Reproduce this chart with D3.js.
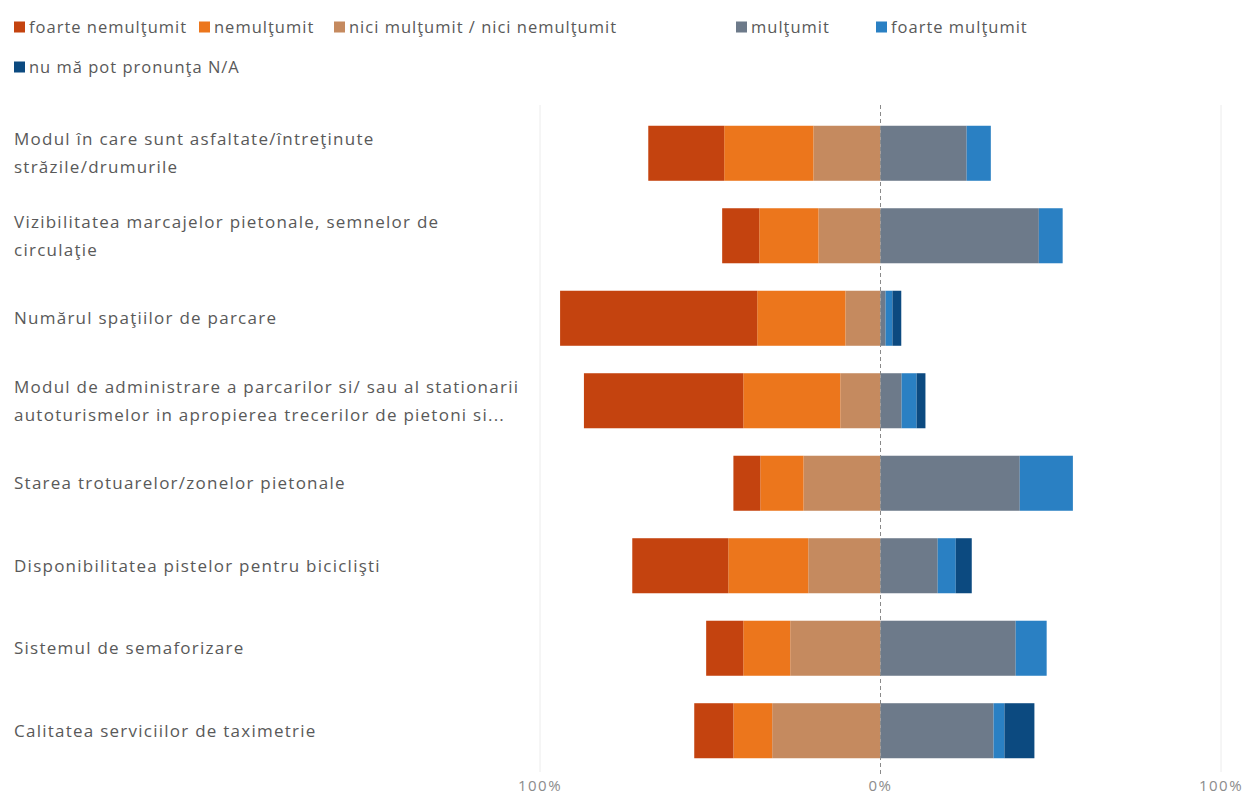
<!DOCTYPE html>
<html>
<head>
<meta charset="utf-8">
<script src="https://cdn.jsdelivr.net/npm/d3@7"></script>
<style>
  html, body { margin: 0; padding: 0; background: #fff; }
  svg { display: block; font-family: "Open Sans", "Noto Sans", sans-serif; }
</style>
</head>
<body>
<svg id="chart" width="1247" height="796"></svg>
<script>
// ---- data ----
const categories = [
  ["Modul în care sunt asfaltate/întreţinute", "străzile/drumurile"],
  ["Vizibilitatea marcajelor pietonale, semnelor de", "circulaţie"],
  ["Numărul spaţiilor de parcare"],
  ["Modul de administrare a parcarilor si/ sau al stationarii", "autoturismelor in apropierea trecerilor de pietoni si..."],
  ["Starea trotuarelor/zonelor pietonale"],
  ["Disponibilitatea pistelor pentru biciclişti"],
  ["Sistemul de semaforizare"],
  ["Calitatea serviciilor de taximetrie"]
];
const seriesNames = ["foarte nemulţumit", "nemulţumit", "nici mulţumit / nici nemulţumit", "mulţumit", "foarte mulţumit", "nu mă pot pronunţa N/A"];
const foarteNemultumit = [22.3, 10.9, 57.9, 46.8, 7.9, 28.2, 10.9, 11.5];
const nemultumit       = [26.2, 17.4, 25.9, 28.5, 12.7, 23.5, 13.8, 11.4];
const niciNici         = [19.7, 18.2, 10.3, 11.8, 22.6, 21.2, 26.5, 31.8];
const multumit         = [25.3, 46.5, 1.5, 6.2, 40.9, 16.8, 39.7, 33.2];
const foarteMultumit   = [7.1, 7.0, 2.0, 4.4, 15.6, 5.3, 9.1, 3.2];
const nuPot            = [0, 0, 2.6, 2.6, 0, 4.7, 0, 8.8];
const tickValues = [-100, 0, 100];
const tickLabels = ["100%", "0%", "100%"];
const colors = ["#C4430F", "#EC761C", "#C58A5F", "#6D7A8A", "#2A80C3", "#0C4A80"];

// ---- layout ----
const svg = d3.select("#chart");
const x = d3.scaleLinear().domain([-100, 100]).range([540, 1221]);
const y = d3.scaleBand().domain(d3.range(categories.length)).range([112, 772])
  .paddingInner(0.333).paddingOuter(0.1667);

// gridlines
svg.append("g").selectAll("line").data([-100, 100]).join("line")
  .attr("x1", d => x(d)).attr("x2", d => x(d))
  .attr("y1", 105).attr("y2", 772)
  .attr("stroke", "#ececec").attr("stroke-width", 1);

// bars
const leftSeries = [niciNici, nemultumit, foarteNemultumit]; // from zero outward
const leftIdx = [2, 1, 0];
const rightSeries = [multumit, foarteMultumit, nuPot];
const rightIdx = [3, 4, 5];
const segs = [];
categories.forEach((c, i) => {
  let acc = 0;
  leftSeries.forEach((s, k) => {
    segs.push({i, x0: -(acc + s[i]), x1: -acc, c: colors[leftIdx[k]]});
    acc += s[i];
  });
  acc = 0;
  rightSeries.forEach((s, k) => {
    segs.push({i, x0: acc, x1: acc + s[i], c: colors[rightIdx[k]]});
    acc += s[i];
  });
});
svg.append("g").selectAll("rect").data(segs.filter(d => d.x1 > d.x0)).join("rect")
  .attr("x", d => x(d.x0)).attr("width", d => x(d.x1) - x(d.x0))
  .attr("y", d => y(d.i)).attr("height", y.bandwidth())
  .attr("fill", d => d.c);

// zero dashed line
svg.append("line")
  .attr("x1", x(0)).attr("x2", x(0)).attr("y1", 105).attr("y2", 775)
  .attr("stroke", "#8a8a8a").attr("stroke-width", 1).attr("stroke-dasharray", "4,3");

// category labels
const lab = svg.append("g").selectAll("text").data(categories).join("text")
  .attr("x", 14)
  .attr("fill", "#595959")
  .attr("font-size", 17)
  .attr("letter-spacing", 1.25);
lab.each(function(lines, i) {
  const cy = y(i) + y.bandwidth() / 2;
  const t = d3.select(this);
  lines.forEach((ln, j) => {
    t.append("tspan").attr("x", 14)
      .attr("y", cy + (j - (lines.length - 1) / 2) * 28)
      .attr("dy", "0.35em").text(ln);
  });
});

// x axis tick labels
svg.append("g").selectAll("text").data(tickValues).join("text")
  .attr("x", d => x(d)).attr("y", 786).attr("dy", "0.35em")
  .attr("text-anchor", "middle").attr("fill", "#8c8c8c").attr("font-size", 15)
  .attr("letter-spacing", 1.5)
  .text((d, i) => tickLabels[i]);

// legend
const legendPos = [[14, 27], [199, 27], [334, 27], [736, 27], [876, 27], [14, 67]];
const lg = svg.append("g").selectAll("g").data(seriesNames).join("g")
  .attr("transform", (d, i) => `translate(${legendPos[i][0]},${legendPos[i][1]})`);
lg.append("rect").attr("x", 0).attr("y", -5.5).attr("width", 11).attr("height", 11)
  .attr("fill", (d, i) => colors[i]);
lg.append("text").attr("x", 15).attr("y", 0).attr("dy", "0.35em")
  .attr("fill", "#595959").attr("font-size", 16.5).attr("letter-spacing", 1).text(d => d);
</script>
</body>
</html>
